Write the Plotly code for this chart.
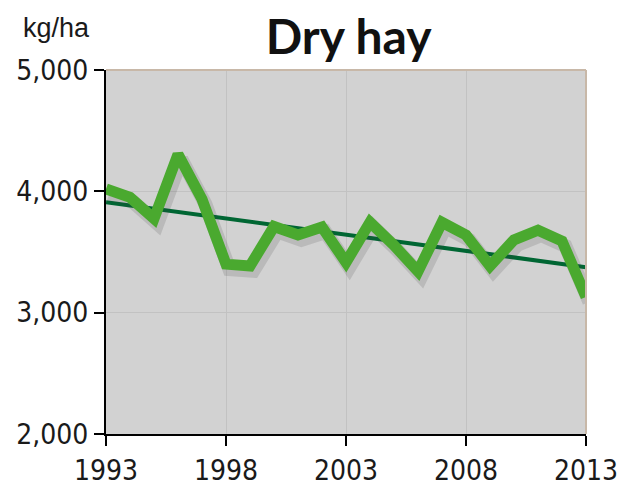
import plotly.graph_objects as go

years = list(range(1993, 2014))
hay = [4020, 3950, 3775, 4305, 3935, 3400, 3385, 3710, 3640, 3705, 3415,
       3745, 3555, 3340, 3745, 3640, 3385, 3600, 3680, 3590, 3130]
trend_years = [1993, 2013]
trend_vals = [3910, 3375]
x_ticks = [1993, 1998, 2003, 2008, 2013]
y_ticks = [2000, 3000, 4000, 5000]
y_tick_labels = ["2,000", "3,000", "4,000", "5,000"]

fig = go.Figure()
fig.add_trace(go.Scatter(x=trend_years, y=trend_vals, mode="lines",
                         line=dict(color="#006633", width=4), hoverinfo="skip"))
# soft drop shadow of the data line, drawn on shifted overlay axes
fig.add_trace(go.Scatter(x=years, y=hay, mode="lines", xaxis="x2", yaxis="y2",
                         line=dict(color="rgba(60,60,60,0.16)", width=14), hoverinfo="skip"))
fig.add_trace(go.Scatter(x=years, y=hay, mode="lines", xaxis="x3", yaxis="y3",
                         line=dict(color="#4aa92f", width=11), hoverinfo="skip"))

tick_font = dict(family="DejaVu Sans Condensed, Liberation Sans, Arial", size=28, color="#1a1a1a")

fig.update_layout(
    width=626, height=491,
    margin=dict(l=106, r=40, t=70, b=57),
    paper_bgcolor="white",
    plot_bgcolor="#d2d2d2",
    showlegend=False,
    title=dict(text="<b>Dry hay</b>", x=0.557, xanchor="center", y=0.925, yanchor="middle",
               font=dict(family="Lato, Open Sans, sans-serif", size=48, color="#111111")),
    annotations=[dict(text="kg/ha", xref="paper", yref="paper", x=-0.178, y=1.115,
                      xanchor="left", yanchor="middle", showarrow=False,
                      font=dict(family="Liberation Sans, Arial", size=27, color="#1a1a1a"))],
    xaxis=dict(range=[1993, 2013], tickvals=x_ticks, ticktext=[str(v) for v in x_ticks],
               showgrid=True, gridcolor="#c2c2c2", gridwidth=1, automargin=False,
               showline=True, linecolor="black", linewidth=2,
               ticks="outside", ticklen=10, tickwidth=2, tickcolor="black",
               tickfont=tick_font, zeroline=False, mirror=False),
    yaxis=dict(range=[2000, 5000], tickvals=y_ticks, ticktext=y_tick_labels,
               showgrid=True, gridcolor="#c2c2c2", gridwidth=1, automargin=False,
               showline=True, linecolor="black", linewidth=2,
               ticks="outside", ticklen=10, tickwidth=2, tickcolor="black",
               tickfont=tick_font, zeroline=False),
    xaxis2=dict(range=[1993 - 0.14, 2013 - 0.14], overlaying="x", visible=False, automargin=False),
    yaxis2=dict(range=[2000 + 40, 5000 + 40], overlaying="y", visible=False, automargin=False),
    xaxis3=dict(range=[1993, 2013], overlaying="x", visible=False, automargin=False),
    yaxis3=dict(range=[2000, 5000], overlaying="y", visible=False, automargin=False),
    shapes=[dict(type="line", xref="paper", yref="paper", x0=1, x1=1, y0=0, y1=1,
                 line=dict(color="#c8b8a8", width=2)),
            dict(type="line", xref="paper", yref="paper", x0=0, x1=1, y0=1, y1=1,
                 line=dict(color="#c8b8a8", width=2))],
)

fig.write_html("out.html", config={"displayModeBar": False},
               post_script="document.body.style.margin='0';document.body.style.overflow='hidden';")
